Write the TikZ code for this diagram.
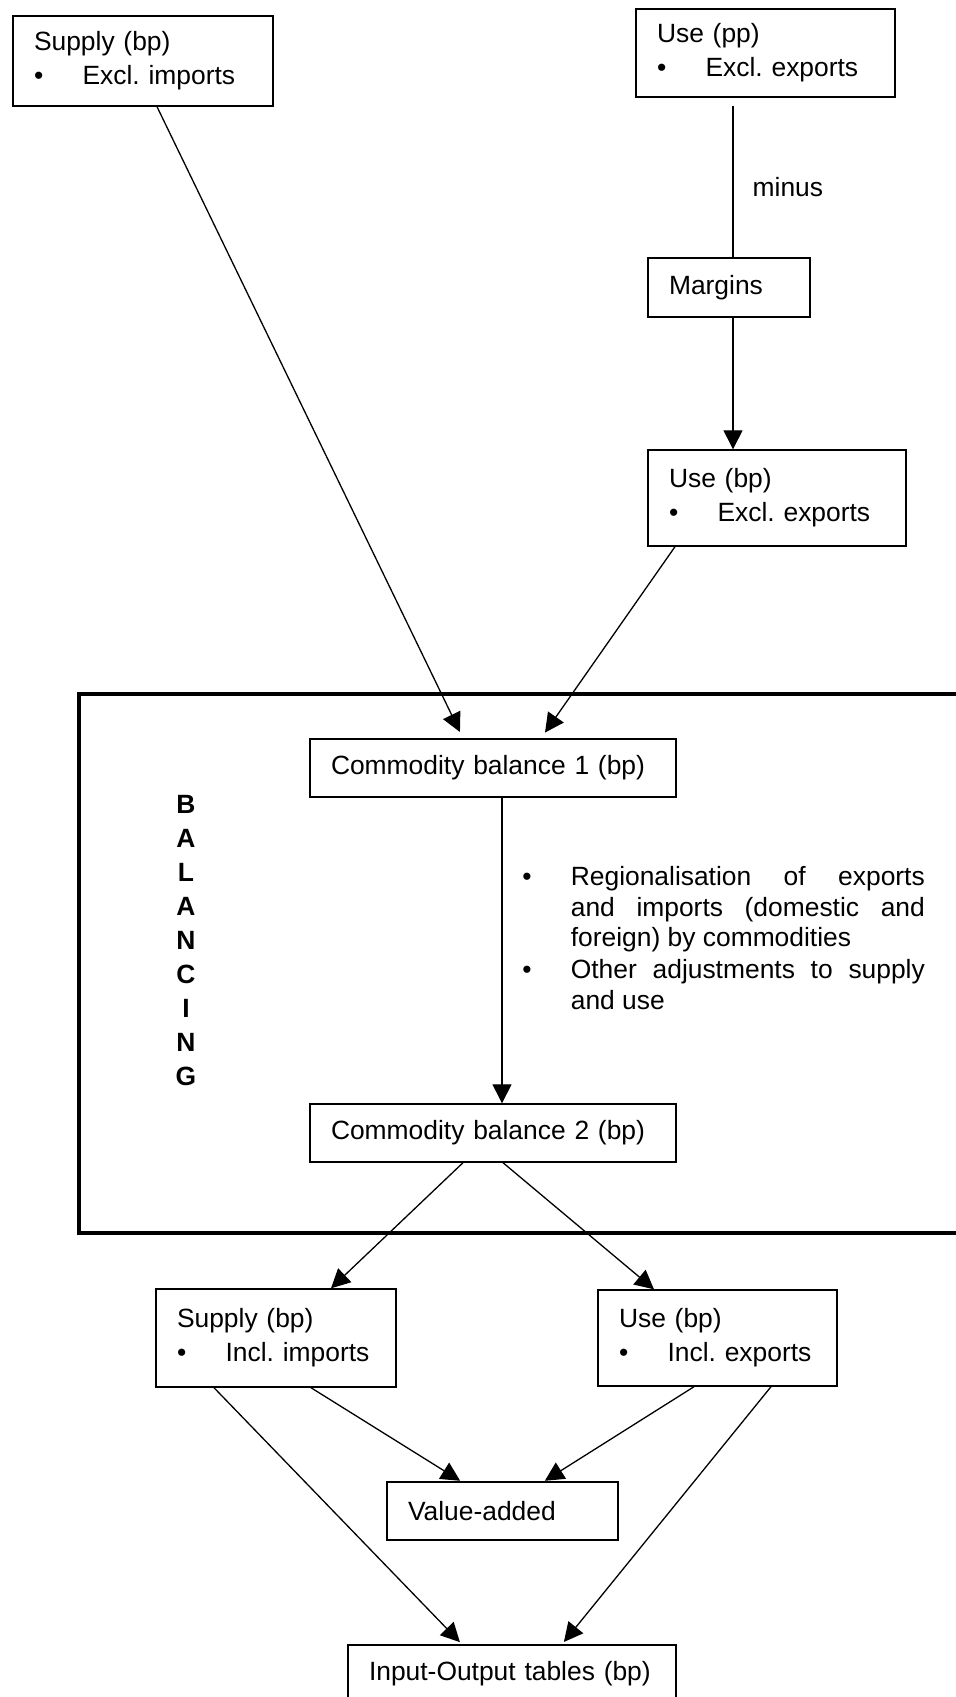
\documentclass[tikz,border=0pt]{standalone}
\usepackage{fontspec}
\setmainfont{Liberation Sans}
\usetikzlibrary{arrows.meta}
\frenchspacing
\newcommand{\bul}{\makebox[24.3pt][l]{\textbullet}}

\begin{document}
\begin{tikzpicture}[
    x=0.5pt, y=-0.5pt,
    box/.style={
        draw, line width=0.7pt,
        inner xsep=10.5pt, inner ysep=0pt,
        align=left,
        font=\fontsize{13.2pt}{17pt}\selectfont
    },
    flow/.style={
        -{Triangle[length=9.5pt,width=9.5pt]}, line width=0.65pt
    },
    plain/.style={
        line width=0.65pt
    },
    frame/.style={
        line width=2pt
    },
    note/.style={
        font=\fontsize{13.2pt}{15.25pt}\selectfont,
        inner sep=0pt, align=left
    }
]

\useasboundingbox (0,0) rectangle (955,1697);

% ====== TABLEAUX DE DEPART ======
\node[box, text width=109pt, minimum height=45pt]   (supplyExcl) at (143,61)    {Supply (bp)\\\bul Excl. imports};
\node[box, text width=108.5pt, minimum height=44pt] (usePP)      at (765.5,53)  {Use (pp)\\\bul Excl. exports};
\node[box, text width=60pt, minimum height=29.5pt]  (margins)    at (729,287.5) {Margins};
\node[box, text width=108pt, minimum height=48pt]   (useBP)      at (777,498)   {Use (bp)\\\bul Excl. exports};

% ====== CADRE D'EQUILIBRAGE ======
\draw[frame] (960,694) -- (79,694) -- (79,1233) -- (960,1233);
\node[font=\fontsize{13.2pt}{17pt}\selectfont\bfseries, align=center, inner sep=0pt]
    (balLabel) at (186,940.5) {B\\A\\L\\A\\N\\C\\I\\N\\G};

\node[box, text width=162pt, minimum height=29pt] (cb1) at (493,768)  {Commodity balance 1 (bp)};
\node[box, text width=162pt, minimum height=29pt] (cb2) at (493,1133) {Commodity balance 2 (bp)};

% ====== RESULTATS ======
\node[box, text width=99pt, minimum height=49pt]   (supplyIncl) at (276,1338)   {Supply (bp)\\\bul Incl. imports};
\node[box, text width=98.5pt, minimum height=48pt] (useIncl)    at (717.5,1338) {Use (bp)\\\bul Incl. exports};
\node[box, text width=94.5pt, minimum height=29pt] (valueAdded) at (502.5,1511) {Value-added};
\node[box, text width=143pt, minimum height=29pt]  (ioTables)   at (512,1674)   {Input-Output tables (bp)};

% ====== CONNEXIONS ======
% prix d'acquisition moins marges
\draw[plain, shorten <=4pt] ([xshift=2pt]usePP.south -| margins.north) --
    node[pos=0.563, anchor=west, xshift=9.5pt, inner sep=0pt, font=\fontsize{13.2pt}{15pt}\selectfont] (minusLbl) {minus}
    ([xshift=2pt]margins.north);
\draw[flow] ([xshift=2pt]margins.south) -- ([xshift=2pt]margins.south |- useBP.north);

% vers la balance 1
\draw[flow, shorten >=3.5pt] ([xshift=7pt]supplyExcl.south) -- ([xshift=-15pt]cb1.north);
\draw[flow, shorten >=3.5pt] ([xshift=-51pt]useBP.south) -- ([xshift=24pt]cb1.north);

% balance 1 -> balance 2
\draw[flow] ([xshift=4.5pt]cb1.south) --
    node[note, pos=0.223, anchor=north west, xshift=9.8pt] (adjustNote) {%
        \bul\makebox[177pt][s]{Regionalisation of exports}\\
        \hspace*{24.3pt}\makebox[177pt][s]{and imports (domestic and}\\
        \hspace*{24.3pt}foreign) by commodities\\[0.75pt]
        \bul\makebox[177pt][s]{Other adjustments to supply}\\
        \hspace*{24.3pt}and use}
    ([xshift=4.5pt]cb2.north);

% balance 2 -> tableaux
\draw[flow] ([xshift=-15pt]cb2.south) -- ([xshift=27.5pt]supplyIncl.north);
\draw[flow] ([xshift=5pt]cb2.south)   -- ([xshift=-31.75pt]useIncl.north);

% valeur ajoutee
\draw[flow, shorten >=0.5pt] ([xshift=17.5pt]supplyIncl.south) -- ([xshift=-20.75pt]valueAdded.north);
\draw[flow, shorten >=0.5pt] ([xshift=-11.75pt]useIncl.south) -- ([xshift=20.75pt]valueAdded.north);

% tableaux entrees-sorties
\draw[flow, shorten >=1.5pt] ([xshift=-31pt]supplyIncl.south) -- ([xshift=-25pt]ioTables.north);
\draw[flow, shorten >=1.5pt] ([xshift=26.75pt]useIncl.south) -- ([xshift=25pt]ioTables.north);

\end{tikzpicture}
\end{document}
